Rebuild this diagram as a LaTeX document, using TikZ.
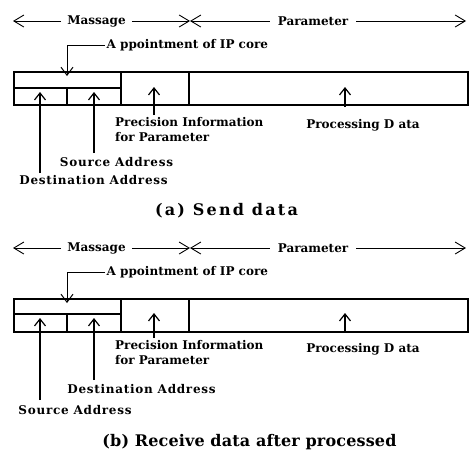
\documentclass[tikz,border=0pt]{standalone}
\usepackage{fontspec}
\setmainfont{DejaVu Serif}
\newfontfamily\lblfont{DejaVu Serif}
\newfontfamily\widefont{DejaVu Serif}[LetterSpace=6]
\newfontfamily\capafont{DejaVu Serif}[LetterSpace=14]
\newfontfamily\capbfont{DejaVu Serif}[LetterSpace=1]
\usetikzlibrary{arrows.meta}
\begin{document}
\begin{tikzpicture}[x=1pt,y=-1pt,
  lbl/.style={font=\lblfont\bfseries\fontsize{12}{15}\selectfont, inner sep=0pt},
  widelbl/.style={font=\widefont\bfseries\fontsize{12}{15}\selectfont, inner sep=0pt},
  dimlbl/.style={lbl, inner xsep=8pt},
  capa/.style={font=\capafont\bfseries\fontsize{16}{20}\selectfont, inner sep=0pt},
  capb/.style={font=\capbfont\bfseries\fontsize{16}{20}\selectfont, inner sep=0pt},
  boxline/.style={line width=1.5pt},
  dimarr/.style={line width=0.9pt, -{Straight Barb[length=10pt,width=12pt]}},
  uparr/.style={line width=1.2pt, -{Straight Barb[length=7pt,width=11pt]}},
  apparr/.style={line width=1pt, -{Straight Barb[length=8pt,width=12pt]}}]
\useasboundingbox (0,0) rectangle (470,453);

% ---------------- (a) Send data ----------------
\begin{scope}
  \node[dimlbl, inner xsep=6pt] (aMas) at (96.5,21) {Massage};
  \node[dimlbl] (aPar) at (313,21) {Parameter};
  \coordinate (aL) at (13,21);
  \coordinate (aM) at (190,21);
  \coordinate (aR) at (466,21);
  \draw[dimarr] (aMas.west) -- (aL);
  \draw[dimarr] (aMas.east) -- (aM);
  \draw[dimarr] (aPar.west) -- (aM);
  \draw[dimarr] (aPar.east) -- (aR);

  \node[draw, boxline, minimum width=454pt, minimum height=33pt, anchor=north west, inner sep=0pt] (aBox) at (13,71) {};
  \draw[boxline] (121,71) -- (121,104);
  \draw[boxline] (189,71) -- (189,104);
  \draw[boxline] (13,88) -- (121,88);
  \draw[boxline] (67,88) -- (67,104);

  \node[lbl, anchor=west, inner xsep=1.5pt] (aApp) at (105,45) {A ppointment of IP core};
  \coordinate (aAppT) at (67,76);
  \draw[apparr] (aApp.west) -| (aAppT);

  \node[lbl, align=left, anchor=north west] (aPrec) at (115,117) {Precision Information\\for Parameter};
  \coordinate (aPrecT) at (154,87);
  \draw[uparr] ([yshift=2pt]aPrecT |- aPrec.north) -- (aPrecT);

  \node[lbl] (aProc) at (363,125) {Processing D ata};
  \coordinate (aProcB) at (345,107);
  \coordinate (aProcT) at (345,87);
  \draw[uparr] (aProcB) -- (aProcT);

  \node[widelbl] (aSrc) at (116.5,162) {Source Address};
  \coordinate (aSrcB) at (94,153);
  \coordinate (aSrcT) at (94,92);
  \draw[uparr] (aSrcB) -- (aSrcT);

  \node[widelbl] (aDst) at (93.5,180) {Destination Address};
  \coordinate (aDstT) at (40,92);
  \draw[uparr] ([yshift=2pt]aDstT |- aDst.north) -- (aDstT);

  \node[capa] (aCap) at (226.5,211) {(a) Send data};
\end{scope}

% ---------------- (b) Receive data after processed ----------------
\begin{scope}[shift={(0,227)}]
  \node[dimlbl, inner xsep=6pt] (bMas) at (96.5,21) {Massage};
  \node[dimlbl] (bPar) at (313,21) {Parameter};
  \coordinate (bL) at (13,21);
  \coordinate (bM) at (190,21);
  \coordinate (bR) at (466,21);
  \draw[dimarr] (bMas.west) -- (bL);
  \draw[dimarr] (bMas.east) -- (bM);
  \draw[dimarr] (bPar.west) -- (bM);
  \draw[dimarr] (bPar.east) -- (bR);

  \node[draw, boxline, minimum width=454pt, minimum height=33pt, anchor=north west, inner sep=0pt] (bBox) at (13,71) {};
  \draw[boxline] (121,71) -- (121,104);
  \draw[boxline] (189,71) -- (189,104);
  \draw[boxline] (13,87) -- (121,87);
  \draw[boxline] (67,87) -- (67,104);

  \node[lbl, anchor=west, inner xsep=1.5pt] (bApp) at (105,45) {A ppointment of IP core};
  \coordinate (bAppT) at (67,76);
  \draw[apparr] (bApp.west) -| (bAppT);

  \node[lbl, align=left, anchor=north west] (bPrec) at (115,113) {Precision Information\\for Parameter};
  \coordinate (bPrecT) at (154,86);
  \draw[uparr] ([yshift=2pt]bPrecT |- bPrec.north) -- (bPrecT);

  \node[lbl] (bProc) at (363,122) {Processing D ata};
  \coordinate (bProcB) at (345,105);
  \coordinate (bProcT) at (345,86);
  \draw[uparr] (bProcB) -- (bProcT);

  \node[widelbl] (bDst) at (141.5,162) {Destination Address};
  \coordinate (bDstT) at (94,91);
  \draw[uparr] ([yshift=4pt]bDstT |- bDst.north) -- (bDstT);

  \node[widelbl] (bSrc) at (75,183) {Source Address};
  \coordinate (bSrcT) at (40,91);
  \draw[uparr] ([yshift=5pt]bSrcT |- bSrc.north) -- (bSrcT);

  \node[capb] (bCap) at (249.5,215) {(b) Receive data after processed};
\end{scope}
\end{tikzpicture}
\end{document}
